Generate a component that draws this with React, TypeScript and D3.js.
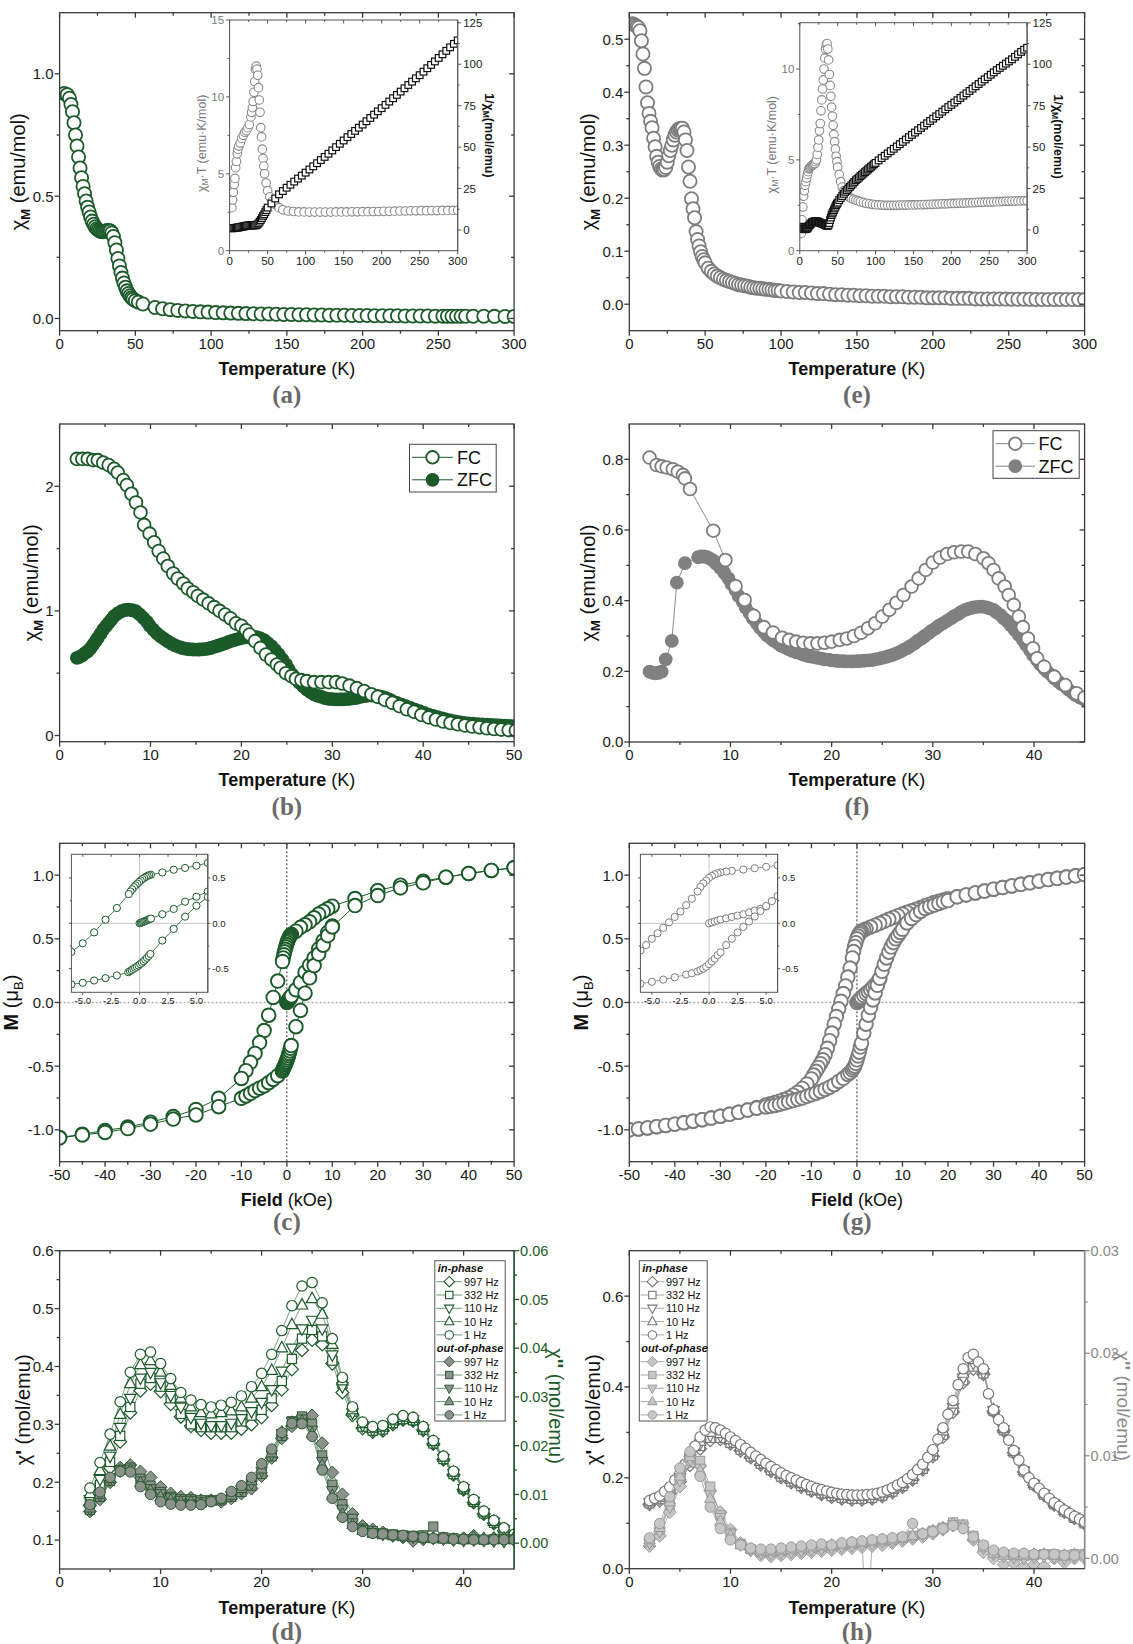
import React from 'react';
import * as d3 from 'd3';

type P = [number, number];
const FONT = "'Liberation Sans', Arial, Helvetica, sans-serif";
const SERIF = "'Liberation Serif', 'Times New Roman', serif";
const GREEN = '#1c5a2a';
const GRAYM = '#7d7d7d';
const FR = '#3a3a3a';

// ---------------- (a) ----------------
const A_MAIN: P[] = [[3,0.92],[5,0.915],[6.5,0.9],[7.5,0.875],[8.5,0.845],[9.5,0.80],[10.5,0.75],[11.5,0.705],[12.5,0.66],[13.5,0.615],[14.5,0.575],[15.5,0.54],[16.5,0.51],[17.5,0.48],[18.5,0.455],[19.5,0.435],[20.5,0.415],[21.5,0.398],[22.5,0.385],[23.5,0.375],[24.5,0.367],[25.5,0.362],[26.5,0.358],[27.5,0.356],[28.5,0.355],[29.5,0.356],[30.5,0.358],[31.5,0.36],[32.5,0.36],[33.5,0.358],[34.5,0.35],[35.5,0.335],[36.5,0.31],[37.5,0.28],[38.5,0.245],[39.5,0.215],[40.5,0.188],[41.5,0.165],[42.5,0.145],[43.5,0.128],[44.5,0.113],[45.5,0.102],[46.5,0.093],[47.5,0.085],[48.5,0.079],[50,0.073],[52,0.067],[55,0.059],[63,0.045],[68,0.04],[73,0.036],[78,0.033],[83,0.031],[88,0.029],[93,0.027],[98,0.026],[103,0.024],[108,0.023],[113,0.022],[118,0.021],[123,0.02],[128,0.019],[133,0.018],[138,0.018],[143,0.017],[148,0.016],[153,0.016],[158,0.015],[163,0.015],[168,0.014],[173,0.014],[178,0.013],[183,0.013],[188,0.013],[193,0.012],[198,0.012],[203,0.012],[208,0.011],[213,0.011],[218,0.011],[223,0.011],[228,0.010],[233,0.010],[238,0.010],[243,0.010],[248,0.0095],[253,0.0095],[256,0.0095],[259,0.009],[262,0.009],[265,0.009],[268,0.009],[273,0.009],[280,0.0088],[287,0.0086],[294,0.0085],[300,0.0084]];
const A_XT: P[] = [[3,2.8],[4,3.3],[5,3.8],[6,4.3],[7,4.7],[8,5.4],[9,5.8],[10,6.3],[11,6.6],[12,6.8],[14,7.0],[16,7.3],[18,7.5],[20,7.7],[22,7.8],[24,8.0],[26,8.2],[28,8.7],[29,9.0],[30,9.3],[31,9.7],[32,10.3],[33,11.0],[34,11.8],[35,12.0],[36,11.8],[37,11.4],[38,10.6],[39,9.8],[40,9.0],[41,8.0],[42,7.4],[43,6.6],[44,6.0],[45,5.5],[46,5.0],[48,4.4],[50,3.9],[53,3.5],[56,3.2],[60,3.0],[65,2.8],[70,2.66],[77,2.58],[84,2.55],[91,2.52],[98,2.52],[105,2.51],[112,2.51],[119,2.51],[126,2.51],[133,2.51],[140,2.52],[147,2.52],[154,2.52],[161,2.53],[168,2.53],[175,2.54],[182,2.54],[189,2.55],[196,2.55],[203,2.56],[210,2.56],[217,2.57],[224,2.58],[231,2.58],[238,2.59],[245,2.59],[252,2.6],[259,2.6],[266,2.61],[273,2.61],[280,2.62],[287,2.62],[294,2.62],[300,2.63]];
const A_INV: P[] = [[2,1.0],[3.5,1.1],[5,1.1],[6.5,1.2],[8,1.3],[9.5,1.4],[11,1.5],[12.5,1.6],[14,1.8],[15.5,1.9],[17,2.0],[18.5,2.2],[20,2.3],[21.5,2.5],[23,2.6],[24.5,2.7],[26,2.8],[27.5,2.8],[29,2.8],[30.5,2.8],[32,2.8],[33.5,2.8],[35,2.9],[36.5,3.3],[38,4.0],[39.5,5.0],[41,6.0],[42.5,7.2],[44,8.5],[45.5,9.5],[47,10.8],[48.5,12.0],[50,13.5],[55,16],[60,19],[65,21.5],[70,23.5],[75,25.5],[80,27.3],[85,29.2],[90,31],[95,32.8],[100,34.6],[105,36.5],[110,38.4],[115,40.3],[120,42.2],[125,44.1],[130,46],[135,48],[140,50],[145,52],[150,54],[155,56],[160,57.9],[165,59.8],[170,61.7],[175,63.6],[180,65.6],[185,67.6],[190,69.6],[195,71.6],[200,73.5],[205,75.5],[210,77.5],[215,79.5],[220,81.5],[225,83.5],[230,85.5],[235,87.5],[240,89.5],[245,91.5],[250,93.4],[255,95.5],[260,97.6],[265,99.6],[270,101.7],[275,103.8],[280,106],[285,108.1],[290,110.2],[295,112.3],[300,114.4]];

// ---------------- (e) ----------------
const E_MAIN: P[] = [[2,0.529],[3,0.528],[4,0.526],[5,0.524],[6,0.522],[7,0.516],[8,0.497],[9,0.472],[10,0.445],[11,0.41],[12,0.38],[13,0.36],[14,0.345],[15,0.333],[16,0.313],[17,0.297],[18,0.279],[19,0.268],[20,0.26],[21,0.255],[22,0.253],[23,0.254],[24,0.258],[25,0.268],[26,0.28],[27,0.29],[28,0.3],[29,0.31],[30,0.319],[31,0.325],[32,0.329],[33,0.331],[34,0.332],[35,0.332],[36,0.325],[37,0.31],[38,0.29],[39,0.259],[40,0.232],[41,0.199],[42,0.18],[43,0.163],[44,0.137],[45,0.122],[46,0.11],[47,0.099],[48,0.09],[49,0.084],[50,0.078],[52,0.068],[54,0.062],[56,0.057],[58,0.053],[60,0.05],[62,0.047],[64,0.045],[66,0.043],[68,0.041],[70,0.039],[72,0.037],[74,0.036],[76,0.035],[78,0.034],[80,0.032],[82,0.031],[84,0.030],[86,0.030],[88,0.029],[90,0.028],[92,0.028],[94,0.027],[96,0.026],[98,0.026],[100,0.025],[104,0.024],[108,0.023],[112,0.022],[116,0.022],[120,0.021],[124,0.02],[128,0.02],[132,0.019],[136,0.018],[140,0.018],[144,0.017],[148,0.017],[152,0.016],[156,0.016],[160,0.015],[164,0.015],[168,0.015],[172,0.014],[176,0.014],[180,0.014],[184,0.013],[188,0.013],[192,0.013],[196,0.012],[200,0.012],[204,0.012],[208,0.012],[212,0.011],[216,0.011],[220,0.011],[224,0.011],[228,0.010],[232,0.010],[236,0.010],[240,0.010],[244,0.0098],[248,0.0096],[252,0.0095],[256,0.0094],[260,0.0093],[264,0.0092],[268,0.0091],[272,0.009],[276,0.009],[280,0.0089],[284,0.0089],[288,0.0088],[292,0.0088],[296,0.0087],[300,0.0087]];
const E_XT: P[] = [[2,0.95],[3,1.7],[4,2.4],[5,3.0],[6,3.3],[7,3.6],[8,3.8],[9,4.0],[10,4.2],[11,4.35],[12,4.5],[13,4.55],[14,4.6],[15,4.65],[16,4.7],[17,4.72],[18,4.75],[19,4.78],[20,4.8],[21,4.9],[22,5.0],[23,5.3],[24,5.7],[25,6.1],[26,6.6],[27,7.0],[28,7.7],[29,8.3],[30,8.9],[31,9.4],[32,10.0],[33,10.6],[34,11.1],[35,11.35],[36,11.4],[37,11.1],[38,10.5],[39,9.7],[40,9.1],[41,8.5],[42,7.9],[43,7.4],[44,6.9],[45,6.4],[46,6.0],[47,5.6],[48,5.2],[49,4.9],[50,4.6],[52,4.2],[54,3.8],[56,3.5],[58,3.3],[60,3.15],[62,3.05],[65,2.95],[68,2.88],[71,2.83],[74,2.78],[77,2.74],[80,2.7],[84,2.65],[88,2.61],[92,2.58],[96,2.55],[100,2.53],[104,2.52],[108,2.51],[112,2.5],[116,2.5],[120,2.5],[124,2.5],[128,2.5],[132,2.51],[136,2.51],[140,2.51],[144,2.52],[148,2.52],[152,2.52],[156,2.53],[160,2.53],[164,2.54],[168,2.54],[172,2.55],[176,2.55],[180,2.56],[184,2.57],[188,2.58],[192,2.58],[196,2.59],[200,2.6],[204,2.6],[208,2.61],[212,2.62],[216,2.62],[220,2.63],[224,2.64],[228,2.64],[232,2.65],[236,2.66],[240,2.66],[244,2.67],[248,2.68],[252,2.68],[256,2.69],[260,2.7],[264,2.7],[268,2.71],[272,2.72],[276,2.72],[280,2.73],[284,2.73],[288,2.74],[292,2.74],[296,2.75],[300,2.75]];
const E_INV: P[] = [[2,2.0],[3,1.5],[4,1.0],[5,0.6],[6,0.5],[7,0.5],[8,0.6],[9,0.8],[10,1.0],[11,1.6],[12,2.5],[13,3.0],[14,3.5],[15,4.0],[16,4.5],[17,4.8],[18,5.0],[19,5.1],[20,5.2],[21,5.2],[22,5.2],[23,5.1],[24,5.0],[25,4.8],[26,4.5],[27,4.3],[28,4.2],[29,4.0],[30,3.8],[31,3.6],[32,3.5],[33,3.2],[34,3.0],[35,2.7],[36,2.5],[37,2.6],[38,3.0],[39,4.2],[40,6.0],[41,7.5],[42,9],[43,10],[44,11],[45,12],[46,13],[47,14],[48,15],[49,15.8],[50,16.5],[52,18],[54,19.3],[56,20.5],[58,21.8],[60,23],[62,24],[64,25],[66,26],[68,27],[70,28],[72,29],[74,30],[76,30.8],[78,31.6],[80,32.5],[82,33.3],[84,34.1],[86,34.9],[88,35.7],[90,36.5],[92,37.3],[94,38.1],[96,38.9],[98,39.7],[100,40.5],[104,42],[108,43.4],[112,44.8],[116,46.2],[120,47.6],[124,49],[128,50.4],[132,51.8],[136,53.2],[140,54.6],[144,56],[148,57.4],[152,58.8],[156,60.2],[160,61.6],[164,63],[168,64.4],[172,65.8],[176,67.2],[180,68.6],[184,70],[188,71.4],[192,72.8],[196,74.2],[200,75.5],[204,76.9],[208,78.3],[212,79.7],[216,81.1],[220,82.5],[224,83.9],[228,85.3],[232,86.7],[236,88.1],[240,89.5],[244,90.9],[248,92.3],[252,93.7],[256,95.1],[260,96.5],[264,97.8],[268,99.1],[272,100.4],[276,101.7],[280,103],[284,104.5],[288,106],[292,107.5],[296,108.8],[300,110]];

// ---------------- (b) ----------------
const B_FC: P[] = [[1.9,2.22],[2.5,2.22],[3.1,2.22],[3.7,2.21],[4.2,2.21],[4.8,2.19],[5.4,2.17],[6,2.14],[6.4,2.11],[7,2.05],[7.4,2.01],[7.9,1.94],[8.4,1.87],[8.9,1.79],[9.3,1.69],[9.9,1.62],[10.4,1.55],[10.9,1.48],[11.4,1.42],[11.9,1.36],[12.5,1.30],[13,1.26],[13.6,1.22],[14.1,1.18],[14.7,1.15],[15.2,1.12],[15.8,1.09],[16.4,1.06],[17,1.03],[17.6,1.00],[18.2,0.97],[18.8,0.94],[19.4,0.90],[20,0.88],[20.5,0.845],[20.9,0.81],[21.5,0.757],[22.1,0.703],[22.7,0.65],[23.3,0.61],[23.9,0.57],[24.3,0.543],[24.9,0.50],[25.5,0.476],[26,0.455],[26.6,0.444],[27.2,0.436],[28,0.428],[28.8,0.428],[29.6,0.428],[30.4,0.428],[31.1,0.417],[31.9,0.40],[32.7,0.38],[33.5,0.356],[34.3,0.33],[35,0.31],[35.8,0.285],[36.6,0.262],[37.4,0.235],[38.2,0.21],[39,0.19],[39.8,0.165],[40.6,0.145],[41.4,0.128],[42.2,0.112],[43,0.1],[43.8,0.09],[44.6,0.08],[45.4,0.072],[46.2,0.065],[47,0.058],[47.8,0.052],[48.6,0.047],[49.4,0.043],[50.2,0.04]];
const B_ZFC: P[] = [[1.9,0.623],[2.2,0.63],[2.5,0.642],[2.8,0.66],[3.1,0.676],[3.4,0.70],[3.7,0.73],[4.0,0.76],[4.2,0.783],[4.5,0.815],[4.8,0.85],[5.1,0.878],[5.4,0.904],[5.7,0.93],[6,0.957],[6.4,0.98],[6.8,0.997],[7.2,1.007],[7.6,1.01],[8,1.005],[8.4,0.997],[8.8,0.972],[9.2,0.944],[9.6,0.913],[9.9,0.882],[10.3,0.85],[10.7,0.82],[11.1,0.796],[11.5,0.775],[11.9,0.755],[12.3,0.738],[12.7,0.723],[13.1,0.711],[13.5,0.702],[13.9,0.695],[14.3,0.692],[14.7,0.69],[15.1,0.689],[15.4,0.69],[15.8,0.692],[16.2,0.695],[16.6,0.702],[17,0.711],[17.4,0.72],[17.8,0.73],[18.2,0.74],[18.6,0.751],[19,0.761],[19.4,0.77],[19.8,0.777],[20.1,0.783],[20.5,0.788],[20.9,0.791],[21.3,0.791],[21.7,0.789],[22.1,0.78],[22.5,0.765],[22.9,0.742],[23.3,0.717],[23.7,0.685],[24.1,0.65],[24.5,0.61],[24.9,0.57],[25.2,0.53],[25.6,0.489],[26,0.455],[26.4,0.422],[26.8,0.394],[27.2,0.369],[27.6,0.347],[28,0.329],[28.4,0.318],[28.8,0.31],[29.2,0.3],[29.6,0.294],[30,0.291],[30.4,0.289],[30.8,0.289],[31.1,0.289],[31.5,0.291],[31.9,0.294],[32.3,0.298],[32.7,0.302],[33.1,0.309],[33.5,0.316],[33.9,0.319],[34.3,0.321],[34.7,0.32],[35.1,0.316],[35.5,0.309],[35.9,0.30],[36.3,0.288],[36.6,0.275],[37.1,0.262],[37.6,0.248],[38.1,0.235],[38.6,0.222],[39.1,0.208],[39.6,0.195],[40.1,0.181],[40.6,0.168],[41.1,0.158],[41.6,0.147],[42.1,0.137],[42.5,0.128],[43,0.12],[43.5,0.113],[44,0.106],[44.5,0.1],[45,0.097],[45.5,0.094],[46,0.091],[46.5,0.088],[47,0.086],[47.5,0.084],[48,0.082],[48.5,0.08],[49,0.078],[49.5,0.076],[50,0.075]];

// ---------------- (f) ----------------
const F_FC: P[] = [[2.0,0.805],[2.7,0.784],[3.2,0.78],[3.7,0.777],[4.3,0.772],[4.8,0.765],[5.3,0.756],[5.5,0.746],[6.0,0.716],[8.3,0.598],[9.5,0.515],[10.5,0.441],[11.4,0.402],[12.3,0.357],[13.3,0.325],[14.2,0.310],[15.1,0.295],[15.8,0.289],[16.5,0.284],[17.2,0.281],[17.9,0.279],[18.6,0.279],[19.3,0.281],[20,0.284],[20.8,0.289],[21.5,0.293],[22.2,0.30],[22.9,0.309],[23.6,0.322],[24.3,0.336],[25,0.355],[25.7,0.374],[26.4,0.394],[27.1,0.416],[27.9,0.44],[28.6,0.463],[29.3,0.487],[30,0.508],[30.7,0.522],[31.4,0.532],[32.1,0.537],[32.8,0.539],[33.5,0.539],[34.2,0.532],[35,0.52],[35.5,0.506],[36,0.487],[36.5,0.463],[37.1,0.44],[37.5,0.416],[38,0.388],[38.5,0.355],[38.9,0.325],[39.4,0.293],[39.9,0.265],[40.3,0.237],[41,0.213],[42,0.185],[43.1,0.161],[44.2,0.138],[45,0.126]];
const F_ZFC: P[] = [[2,0.199],[2.3,0.196],[2.6,0.194],[2.9,0.196],[3.2,0.199],[3.6,0.234],[4.2,0.286],[4.7,0.451],[5.5,0.506],[6.8,0.523],[7.1,0.525],[7.4,0.525],[7.7,0.523],[8.0,0.518],[8.3,0.513],[8.6,0.504],[9,0.492],[9.4,0.478],[9.8,0.463],[10.1,0.447],[10.5,0.430],[10.8,0.413],[11.2,0.397],[11.5,0.38],[11.9,0.364],[12.2,0.35],[12.6,0.336],[12.9,0.324],[13.3,0.312],[13.6,0.302],[14,0.293],[14.3,0.286],[14.7,0.279],[15,0.273],[15.4,0.268],[15.7,0.263],[16.1,0.258],[16.5,0.254],[16.9,0.251],[17.2,0.247],[17.6,0.244],[17.9,0.242],[18.3,0.240],[18.6,0.238],[19,0.236],[19.3,0.234],[19.7,0.233],[20,0.231],[20.4,0.230],[20.7,0.229],[21.1,0.229],[21.4,0.228],[21.8,0.228],[22.1,0.228],[22.5,0.229],[22.8,0.229],[23.2,0.230],[23.6,0.231],[24,0.232],[24.3,0.234],[24.7,0.236],[25,0.238],[25.4,0.241],[25.7,0.244],[26.1,0.247],[26.4,0.251],[26.8,0.256],[27.1,0.261],[27.5,0.266],[27.8,0.272],[28.2,0.279],[28.5,0.286],[28.9,0.293],[29.2,0.3],[29.6,0.308],[29.9,0.315],[30.3,0.322],[30.6,0.329],[31,0.336],[31.4,0.343],[31.8,0.35],[32.1,0.356],[32.5,0.362],[32.8,0.368],[33.2,0.374],[33.5,0.377],[33.9,0.38],[34.2,0.382],[34.6,0.383],[34.9,0.383],[35.3,0.381],[35.6,0.378],[36,0.374],[36.3,0.367],[36.7,0.359],[37,0.35],[37.4,0.341],[37.7,0.33],[38.1,0.317],[38.5,0.303],[38.9,0.289],[39.2,0.275],[39.6,0.26],[39.9,0.246],[40.3,0.232],[40.6,0.22],[41,0.208],[41.3,0.199],[41.7,0.19],[42,0.18],[42.4,0.171],[42.7,0.164],[43.1,0.157],[43.4,0.148],[43.8,0.14],[44.1,0.133],[44.5,0.126],[45,0.119]];

// ---------------- (c) ----------------
const C_DESC: P[] = [[50,1.058],[45,1.037],[40,1.013],[35,0.984],[30,0.953],[25,0.921],[20,0.879],[15,0.816],[10,0.756],[9,0.736],[8,0.715],[7,0.694],[6,0.665],[5,0.634],[4,0.61],[3,0.59],[2,0.56],[1,0.535],[0.85,0.53],[0.7,0.522],[0.55,0.512],[0.4,0.5],[0.25,0.487],[0.1,0.472],[-0.05,0.455],[-0.2,0.437],[-0.35,0.418],[-0.5,0.398],[-0.65,0.375],[-0.8,0.35],[-0.95,0.322],[-2,0.168],[-3,0.04],[-4,-0.1],[-5,-0.22],[-6,-0.315],[-7,-0.40],[-8,-0.47],[-9,-0.535],[-10,-0.596],[-15,-0.752],[-20,-0.84],[-25,-0.895],[-30,-0.94],[-35,-0.978],[-40,-1.005],[-45,-1.035],[-50,-1.06]];
const C_ASC: P[] = [[-50,-1.063],[-45,-1.04],[-40,-1.02],[-35,-0.99],[-30,-0.955],[-25,-0.915],[-20,-0.883],[-15,-0.818],[-10,-0.752],[-9,-0.734],[-8,-0.713],[-7,-0.692],[-6,-0.673],[-5,-0.655],[-4,-0.63],[-3,-0.604],[-2,-0.575],[-1,-0.538],[-0.85,-0.527],[-0.7,-0.515],[-0.55,-0.503],[-0.4,-0.49],[-0.25,-0.478],[-0.1,-0.465],[0.05,-0.45],[0.2,-0.435],[0.35,-0.418],[0.5,-0.4],[0.65,-0.38],[0.8,-0.36],[0.95,-0.338],[2,-0.19],[3,-0.062],[4,0.073],[5,0.194],[6,0.29],[7,0.38],[8,0.45],[9,0.525],[10,0.593],[15,0.761],[20,0.84],[25,0.90],[30,0.94],[35,0.984],[40,1.013],[45,1.037],[50,1.058]];
const C_VIR: P[] = [[0,0],[0.1,0.005],[0.2,0.01],[0.3,0.015],[0.4,0.02],[0.5,0.026],[0.6,0.031],[0.7,0.037],[0.8,0.042],[0.9,0.047],[1,0.052],[2,0.10],[3,0.158],[4,0.238],[5,0.293],[6,0.35],[7,0.42],[8,0.485],[9,0.55],[10,0.6]];

// ---------------- (g) ----------------
const G_DESC: P[] = [[50,1.005],[48,0.995],[46,0.985],[44,0.975],[42,0.965],[40,0.953],[38,0.94],[36,0.928],[34,0.915],[32,0.903],[30,0.89],[28,0.875],[26,0.86],[24,0.845],[22,0.83],[20,0.815],[19,0.805],[18,0.795],[17,0.785],[16,0.772],[15,0.76],[14,0.745],[13,0.732],[12,0.72],[11,0.708],[10,0.695],[9,0.682],[8,0.668],[7,0.653],[6,0.638],[5,0.622],[4,0.607],[3,0.592],[2,0.578],[1.5,0.57],[1,0.56],[0.75,0.552],[0.5,0.54],[0.25,0.522],[0,0.5],[-0.25,0.47],[-0.5,0.44],[-0.75,0.40],[-1,0.35],[-1.5,0.27],[-2,0.2],[-2.5,0.13],[-3,0.07],[-3.5,0.01],[-4,-0.05],[-4.5,-0.11],[-5,-0.17],[-5.5,-0.24],[-6,-0.3],[-6.5,-0.36],[-7,-0.41],[-7.5,-0.45],[-8,-0.48],[-8.5,-0.51],[-9,-0.54],[-9.5,-0.57],[-10,-0.6],[-11,-0.64],[-12,-0.675],[-13,-0.705],[-14,-0.728],[-15,-0.748],[-16,-0.762],[-17,-0.775],[-18,-0.786],[-19,-0.795],[-20,-0.805],[-22,-0.825],[-24,-0.845],[-26,-0.862],[-28,-0.878],[-30,-0.893],[-32,-0.907],[-34,-0.92],[-36,-0.932],[-38,-0.944],[-40,-0.955],[-42,-0.965],[-44,-0.975],[-46,-0.985],[-48,-0.993],[-50,-1.0]];
const G_ASC: P[] = [[-50,-1.0],[-48,-0.993],[-46,-0.985],[-44,-0.975],[-42,-0.965],[-40,-0.955],[-38,-0.944],[-36,-0.932],[-34,-0.92],[-32,-0.907],[-30,-0.893],[-28,-0.878],[-26,-0.862],[-24,-0.845],[-22,-0.83],[-20,-0.82],[-19,-0.815],[-18,-0.808],[-17,-0.8],[-16,-0.79],[-15,-0.78],[-14,-0.77],[-13,-0.76],[-12,-0.75],[-11,-0.737],[-10,-0.725],[-9,-0.712],[-8,-0.698],[-7,-0.683],[-6,-0.665],[-5,-0.645],[-4,-0.62],[-3,-0.595],[-2,-0.565],[-1.5,-0.55],[-1,-0.53],[-0.75,-0.515],[-0.5,-0.5],[-0.25,-0.478],[0,-0.45],[0.25,-0.42],[0.5,-0.39],[0.75,-0.35],[1,-0.32],[1.5,-0.24],[2,-0.17],[2.5,-0.1],[3,-0.04],[3.5,0.02],[4,0.075],[4.5,0.135],[5,0.19],[5.5,0.245],[6,0.3],[6.5,0.35],[7,0.395],[7.5,0.435],[8,0.47],[8.5,0.5],[9,0.525],[9.5,0.55],[10,0.575],[11,0.625],[12,0.66],[13,0.69],[14,0.715],[15,0.738],[16,0.752],[17,0.765],[18,0.778],[19,0.79],[20,0.8],[22,0.83],[24,0.845],[26,0.86],[28,0.875],[30,0.89],[32,0.903],[34,0.915],[36,0.928],[38,0.94],[40,0.953],[42,0.965],[44,0.975],[46,0.985],[48,0.995],[50,1.005]];
const G_VIR: P[] = [[0,0],[0.25,0.01],[0.5,0.02],[0.75,0.03],[1,0.04],[1.5,0.055],[2,0.07],[2.5,0.085],[3,0.1],[3.5,0.12],[4,0.14],[4.5,0.16],[5,0.185]];

// ---------------- (d) ----------------
const D_T = [3,4,5,6,7,8,9,10,11,12,13,14,15,16,17,18,19,20,21,22,23,24,25,26,27,28,29,30,31,32,33,34,35,36,37,38,39,40,41,42,43,44,45];
const D_IN_997 = [0.16,0.19,0.225,0.27,0.32,0.358,0.37,0.357,0.335,0.313,0.297,0.29,0.285,0.285,0.285,0.292,0.3,0.312,0.333,0.36,0.395,0.428,0.446,0.438,0.405,0.355,0.316,0.293,0.287,0.289,0.3,0.308,0.306,0.29,0.266,0.239,0.213,0.187,0.165,0.145,0.129,0.116,0.105];
const D_IN_332 = [0.165,0.195,0.235,0.28,0.33,0.37,0.38,0.365,0.345,0.318,0.3,0.295,0.295,0.295,0.295,0.305,0.315,0.325,0.345,0.375,0.413,0.448,0.463,0.452,0.41,0.37,0.322,0.296,0.289,0.291,0.302,0.309,0.307,0.291,0.267,0.24,0.214,0.188,0.166,0.146,0.13,0.117,0.106];
const D_IN_110 = [0.17,0.205,0.245,0.295,0.345,0.38,0.39,0.372,0.35,0.33,0.312,0.302,0.298,0.298,0.302,0.31,0.322,0.338,0.36,0.392,0.432,0.465,0.48,0.465,0.42,0.365,0.32,0.298,0.29,0.292,0.303,0.31,0.308,0.292,0.268,0.241,0.215,0.189,0.167,0.147,0.131,0.118,0.107];
const D_IN_10 = [0.18,0.22,0.262,0.317,0.37,0.403,0.41,0.39,0.367,0.345,0.33,0.32,0.318,0.32,0.323,0.33,0.345,0.365,0.393,0.432,0.472,0.506,0.517,0.49,0.438,0.375,0.325,0.301,0.293,0.295,0.306,0.312,0.31,0.294,0.27,0.243,0.217,0.19,0.168,0.148,0.132,0.119,0.108];
const D_IN_1 = [0.19,0.234,0.283,0.339,0.39,0.421,0.425,0.405,0.379,0.355,0.342,0.334,0.33,0.333,0.338,0.349,0.365,0.388,0.421,0.462,0.505,0.539,0.545,0.51,0.448,0.381,0.33,0.304,0.296,0.298,0.309,0.315,0.312,0.296,0.272,0.245,0.219,0.192,0.17,0.15,0.134,0.121,0.11];
const D_OUT_997 = [0.0065,0.009,0.0125,0.0155,0.016,0.0147,0.0135,0.0115,0.0102,0.0095,0.0093,0.0088,0.0088,0.0085,0.0092,0.0102,0.0112,0.0138,0.0175,0.0215,0.024,0.0255,0.0262,0.0205,0.0145,0.01,0.006,0.0035,0.0028,0.0022,0.0015,0.0012,0.0005,0.0008,0.001,0.001,0.0008,0.001,0.0015,0.0008,0.001,0.0008,0.001];
const D_OUT_332 = [0.0068,0.0095,0.0128,0.015,0.0155,0.0132,0.0118,0.0105,0.0095,0.009,0.009,0.0088,0.0088,0.0088,0.0095,0.0105,0.0118,0.0142,0.0178,0.022,0.025,0.026,0.0245,0.018,0.012,0.008,0.005,0.003,0.0025,0.002,0.0018,0.0016,0.0015,0.0016,0.0034,0.0012,0.001,0.0008,0.0008,0.0007,0.0008,0.0008,0.0008];
const D_OUT_110 = [0.007,0.0098,0.013,0.0148,0.0152,0.0128,0.0112,0.0102,0.0093,0.0088,0.0088,0.0085,0.0088,0.009,0.0098,0.011,0.0122,0.0148,0.0182,0.0225,0.025,0.0255,0.0232,0.0168,0.0108,0.007,0.0042,0.0028,0.0022,0.0018,0.0016,0.0014,0.0012,0.0011,0.001,0.0008,0.0006,0.0005,0.0006,0.0005,0.0004,0.0003,0.0005];
const D_OUT_10 = [0.0072,0.01,0.0132,0.015,0.015,0.0124,0.0108,0.0095,0.0088,0.0085,0.0085,0.0082,0.0086,0.009,0.0098,0.0112,0.0128,0.0152,0.0185,0.0228,0.0248,0.025,0.0225,0.016,0.0098,0.006,0.0038,0.0026,0.002,0.0017,0.0015,0.0013,0.0012,0.001,0.0009,0.0008,0.0008,0.0007,0.0012,0.001,0.001,0.0011,0.0012];
const D_OUT_1 = [0.0079,0.0105,0.0135,0.0147,0.0146,0.0116,0.010,0.0085,0.008,0.0078,0.0078,0.0079,0.0085,0.0092,0.0106,0.0118,0.0135,0.0163,0.0193,0.0227,0.0246,0.0245,0.0219,0.015,0.0092,0.0053,0.0034,0.0024,0.002,0.0019,0.0017,0.0016,0.0014,0.0012,0.001,0.001,0.0008,0.0008,0.0007,0.0007,0.0007,0.0007,0.0007];

// ---------------- (h) ----------------
const H_T = [2,3,4,5,6,7,8,9,10,11,12,13,14,15,16,17,18,19,20,21,22,23,24,25,26,27,28,29,30,31,32,33,34,35,36,37,38,39,40,41,42,43,44,45];
const H_T_HALF = [2,2.5,3,3.5,4,4.5,5,5.5,6,6.5,7,7.5,8,8.5,9,9.5,10,10.5,11,11.5,12,12.5,13,13.5,14,14.5,15,15.5,16,16.5,17,17.5,18,18.5,19,19.5,20,20.5,21,21.5,22,22.5,23,23.5,24,24.5,25,25.5,26,26.5,27,27.5,28,28.5,29,29.5,30,30.5,31,31.5,32,32.5,33,33.5,34,34.5,35,35.5,36,36.5,37,37.5,38,38.5,39,39.5,40,40.5,41,41.5,42,42.5,43,43.5,44,44.5,45];
const H_IN_1 = [0.15,0.155,0.16,0.17,0.18,0.195,0.21,0.23,0.25,0.27,0.29,0.305,0.312,0.31,0.305,0.298,0.29,0.282,0.273,0.265,0.256,0.248,0.24,0.232,0.225,0.218,0.211,0.205,0.2,0.195,0.19,0.185,0.181,0.177,0.174,0.171,0.168,0.166,0.164,0.163,0.162,0.162,0.162,0.163,0.164,0.166,0.169,0.173,0.178,0.184,0.19,0.198,0.207,0.218,0.23,0.245,0.262,0.285,0.31,0.34,0.37,0.405,0.44,0.465,0.472,0.455,0.44,0.385,0.35,0.328,0.31,0.283,0.26,0.239,0.217,0.2,0.188,0.177,0.166,0.155,0.145,0.137,0.129,0.122,0.115,0.109,0.103];
const H_IN_10 = [0.147,0.157,0.176,0.205,0.243,0.28,0.3,0.297,0.284,0.268,0.252,0.236,0.222,0.208,0.197,0.187,0.178,0.171,0.165,0.161,0.159,0.159,0.161,0.166,0.175,0.187,0.203,0.226,0.257,0.303,0.362,0.43,0.46,0.438,0.35,0.308,0.258,0.216,0.187,0.165,0.144,0.128,0.114,0.102];
const H_IN_110 = [0.145,0.155,0.173,0.2,0.238,0.275,0.293,0.292,0.28,0.265,0.249,0.233,0.219,0.205,0.194,0.184,0.175,0.168,0.162,0.158,0.156,0.156,0.158,0.163,0.172,0.184,0.2,0.222,0.252,0.298,0.355,0.42,0.452,0.432,0.348,0.306,0.257,0.215,0.186,0.164,0.143,0.127,0.113,0.101];
const H_IN_332 = [0.144,0.153,0.17,0.197,0.234,0.27,0.288,0.288,0.277,0.262,0.247,0.231,0.217,0.203,0.192,0.182,0.173,0.166,0.16,0.156,0.154,0.154,0.156,0.161,0.17,0.182,0.198,0.22,0.25,0.295,0.35,0.415,0.445,0.43,0.347,0.305,0.256,0.214,0.185,0.163,0.142,0.126,0.112,0.1];
const H_IN_997 = [0.142,0.15,0.166,0.192,0.228,0.264,0.283,0.285,0.275,0.26,0.245,0.229,0.215,0.201,0.19,0.18,0.171,0.164,0.158,0.154,0.152,0.152,0.154,0.159,0.168,0.18,0.196,0.218,0.247,0.29,0.345,0.41,0.44,0.428,0.346,0.304,0.255,0.213,0.184,0.162,0.141,0.125,0.111,0.099];
const H_OUT_997 = [0.0012,0.0022,0.0045,0.007,0.0095,0.009,0.0066,0.0045,0.0028,0.0015,0.0008,0.0003,0.0002,0.0003,0.0004,0.0005,0.0006,0.0007,0.0008,0.0009,0.001,0.0011,0.0012,0.0013,0.0015,0.0017,0.0019,0.0021,0.0024,0.0028,0.0032,0.003,0.0018,0.0006,0,-0.0006,-0.0005,-0.0008,-0.0006,-0.0008,0,-0.0004,0,0];
const H_OUT_332 = [0.0016,0.0028,0.0052,0.0078,0.0098,0.0095,0.007,0.0042,0.0025,0.0014,0.0009,0.0006,0.0006,0.0007,0.0008,0.0009,0.001,0.0011,0.0012,0.0013,0.0014,0.0015,0.0016,0.0017,0.0018,0.002,0.0022,0.0024,0.0027,0.003,0.0035,0.0033,0.0022,0.0012,0.0006,0.0004,0.0003,0.0002,0.0003,0.0004,0.0004,0.0003,0.0004,0.0004];
const H_OUT_110 = [0.0015,0.0026,0.005,0.0076,0.0096,0.0088,0.0062,0.004,0.0024,0.0013,0.0008,0.0005,0.0004,0.0005,0.0006,0.0007,0.0008,0.0009,0.001,0.0011,0.0012,0.0013,0.0014,0.0016,0.0017,0.0019,0.0021,0.0023,0.0026,0.0029,0.0033,0.0031,0.002,0.001,0.0004,0.0002,0.0001,0,0.0001,0.0002,0.0001,0,0.0001,0.0002];
const H_OUT_10 = [0.0018,0.003,0.0055,0.008,0.0099,0.0085,0.0058,0.0036,0.0022,0.0013,0.0009,0.0007,0.0007,0.0008,0.0009,0.001,0.0011,0.0012,0.0013,0.0014,0.0015,0.0016,0.0017,0.0018,0.0019,0.002,0.0022,0.0024,0.0027,0.003,0.0034,0.0032,0.0021,0.0011,0.0005,0.0003,0.0003,0.0003,0.0004,0.0004,0.0003,0.0003,0.0004,0.0004];
const H_OUT_10_SPIKE: P[] = [[23.3,-0.004],[23.7,-0.004]];
const H_OUT_1 = [0.002,0.0034,0.006,0.0088,0.0104,0.008,0.005,0.0029,0.0018,0.0013,0.001,0.0009,0.0009,0.001,0.0011,0.0012,0.0013,0.0014,0.0013,0.0015,0.0016,0.0017,0.0018,0.0019,0.002,0.0021,0.0034,0.0024,0.0026,0.0029,0.0032,0.0029,0.0021,0.0013,0.0008,0.0006,0.0005,0.0005,0.0004,0.0004,0.0004,0.0003,0.0003,0.0003];

const FREQS = ['997 Hz', '332 Hz', '110 Hz', '10 Hz', '1 Hz'];
const SHAPES = ['d', 's', 'v', 'u', 'c'];

// tick lists
const T300 = [0, 50, 100, 150, 200, 250, 300];
const T300m = [25, 75, 125, 175, 225, 275];
const T50 = [0, 10, 20, 30, 40, 50];
const T50m = [5, 15, 25, 35, 45];
const FIELD = [-50, -40, -30, -20, -10, 0, 10, 20, 30, 40, 50];
const FIELDm = [-45, -35, -25, -15, -5, 5, 15, 25, 35, 45];
const M_T = [-1, -0.5, 0, 0.5, 1];
const M_Tm = [-0.75, -0.25, 0.25, 0.75];

const zip = (t: number[], v: number[]): P[] => t.map((x, i) => [x, v[i]] as P).filter(p => p[1] !== undefined);

// layout
const BOX: any = {
  a: { L: 59.6, R: 514.1, T: 12.7, B: 330.7 },
  e: { L: 629.3, R: 1084.6, T: 12.7, B: 330.7 },
  b: { L: 59.6, R: 514.1, T: 424, B: 741.7 },
  f: { L: 629.3, R: 1084.6, T: 424, B: 742 },
  c: { L: 59.6, R: 514.1, T: 843.3, B: 1161.7 },
  g: { L: 629.3, R: 1084.6, T: 843.3, B: 1161.7 },
  d: { L: 59.6, R: 514.1, T: 1250.7, B: 1569 },
  h: { L: 629.3, R: 1084.6, T: 1250.7, B: 1568.7 },
};
const INS: any = {
  a: { L: 229.6, R: 457.7, T: 20, B: 250.7 },
  e: { L: 799.8, R: 1027.1, T: 22.7, B: 250.7 },
  c: { L: 71.4, R: 207.8, T: 854.3, B: 992.3 },
  g: { L: 640.4, R: 777.6, T: 854.3, B: 992.3 },
};

const f1 = (v: number) => v.toFixed(1);
const f0 = (v: number) => String(v);
const f2 = (v: number) => v.toFixed(2);

function mk(s: string, x: number, y: number, r: number, fill: string, stroke: string, sw: number, k: any) {
  if (s === 'c') return <circle key={k} cx={x} cy={y} r={r} fill={fill} stroke={stroke} strokeWidth={sw} />;
  if (s === 's') return <rect key={k} x={x - r * 0.88} y={y - r * 0.88} width={r * 1.76} height={r * 1.76} fill={fill} stroke={stroke} strokeWidth={sw} />;
  let d = '';
  if (s === 'd') { const q = r * 1.25; d = `M${x},${y - q}L${x + q},${y}L${x},${y + q}L${x - q},${y}Z`; }
  if (s === 'u') d = `M${x},${y - r * 1.25}L${x + r * 1.1},${y + r * 0.75}L${x - r * 1.1},${y + r * 0.75}Z`;
  if (s === 'v') d = `M${x},${y + r * 1.25}L${x + r * 1.1},${y - r * 0.75}L${x - r * 1.1},${y - r * 0.75}Z`;
  return <path key={k} d={d} fill={fill} stroke={stroke} strokeWidth={sw} />;
}

function Frame(o: any) {
  const { L, R, T, B, xs, ys, xt, xm, yt, ym, fx, fy, fs, maj, mnr, sw } = o;
  const color = o.color || FR;
  const lab = o.lab || '#1a1a1a';
  const gap = o.gap ?? 1;
  const els: any[] = [];
  const okX = (v: number) => { const X = xs(v); return X >= L - 0.5 && X <= R + 0.5; };
  const okY = (v: number) => { const Y = ys(v); return Y >= T - 0.5 && Y <= B + 0.5; };
  xt.filter(okX).forEach((v: number, i: number) => {
    const X = xs(v);
    els.push(<line key={'xb' + i} x1={X} x2={X} y1={B} y2={B + maj} stroke={color} strokeWidth={sw} />);
    els.push(<line key={'xtt' + i} x1={X} x2={X} y1={T} y2={T + maj} stroke={color} strokeWidth={sw} />);
    if (o.xLabels !== false) els.push(<text key={'xl' + i} x={X} y={B + maj + fs * 0.78 + 1.5} textAnchor="middle" fontSize={fs} fill={o.xLab || lab}>{fx(v)}</text>);
  });
  xm.filter(okX).forEach((v: number, i: number) => {
    const X = xs(v);
    els.push(<line key={'xm' + i} x1={X} x2={X} y1={B} y2={B + mnr} stroke={color} strokeWidth={sw} />);
    els.push(<line key={'xmt' + i} x1={X} x2={X} y1={T} y2={T + mnr} stroke={color} strokeWidth={sw} />);
  });
  yt.filter(okY).forEach((v: number, i: number) => {
    const Y = ys(v);
    els.push(<line key={'yl' + i} x1={L} x2={L - maj} y1={Y} y2={Y} stroke={color} strokeWidth={sw} />);
    if (!o.right) els.push(<line key={'yr' + i} x1={R} x2={R - maj} y1={Y} y2={Y} stroke={color} strokeWidth={sw} />);
    if (o.yLabels !== false) els.push(<text key={'ylb' + i} x={L - maj - gap} y={Y + fs * 0.36} textAnchor="end" fontSize={fs} fill={o.yLab || lab}>{fy(v)}</text>);
  });
  ym.filter(okY).forEach((v: number, i: number) => {
    const Y = ys(v);
    els.push(<line key={'ym' + i} x1={L} x2={L - mnr} y1={Y} y2={Y} stroke={color} strokeWidth={sw} />);
    if (!o.right) els.push(<line key={'ymr' + i} x1={R} x2={R - mnr} y1={Y} y2={Y} stroke={color} strokeWidth={sw} />);
  });
  els.push(<rect key="fr" x={L} y={T} width={R - L} height={B - T} fill="none" stroke={color} strokeWidth={sw} />);
  if (o.right) {
    const r = o.right;
    const okR = (v: number) => { const Y = r.s(v); return Y >= T - 0.5 && Y <= B + 0.5; };
    els.push(<line key="rax" x1={R} x2={R} y1={T} y2={B} stroke={r.color} strokeWidth={sw} />);
    r.t.filter(okR).forEach((v: number, i: number) => {
      const Y = r.s(v);
      els.push(<line key={'rt' + i} x1={R} x2={R + maj} y1={Y} y2={Y} stroke={r.color} strokeWidth={sw} />);
      els.push(<text key={'rl' + i} x={R + maj + gap} y={Y + (r.fs || fs) * 0.36} textAnchor="start" fontSize={r.fs || fs} fill={r.lab || r.color}>{r.f(v)}</text>);
    });
    r.m.filter(okR).forEach((v: number, i: number) => {
      const Y = r.s(v);
      els.push(<line key={'rm' + i} x1={R} x2={R + mnr} y1={Y} y2={Y} stroke={r.color} strokeWidth={sw} />);
    });
  }
  return <g>{els}</g>;
}

function clip(id: string, b: any) {
  return <clipPath id={id}><rect x={b.L} y={b.T} width={b.R - b.L} height={b.B - b.T} /></clipPath>;
}

const YFS = 20;
const YOFF = 5;
function tempTitle(cx: number, y: number) {
  return <text x={cx} y={y} textAnchor="middle" fontSize={18} fill="#111"><tspan fontWeight="bold">Temperature</tspan> (K)</text>;
}
function letter(cx: number, y: number, s: string) {
  return <text x={cx} y={y} textAnchor="middle" fontSize={25} fontFamily={SERIF} fontWeight="bold" fill="#6a6a6a">{s}</text>;
}
function chiLabel(x: number, cy: number) {
  return <text transform={`translate(${x + YOFF},${cy}) rotate(-90)`} textAnchor="middle" fontSize={YFS} fill="#111">χ<tspan fontSize={13} dy={5} fontWeight="bold">M</tspan><tspan dy={-5}> (emu/mol)</tspan></text>;
}
function mLabel(x: number, cy: number) {
  return <text transform={`translate(${x + YOFF},${cy}) rotate(-90)`} textAnchor="middle" fontSize={YFS} fill="#111"><tspan fontWeight="bold">M</tspan> (μ<tspan fontSize={13} dy={5}>B</tspan><tspan dy={-5}>)</tspan></text>;
}
function chi1Label(x: number, cy: number) {
  return <text transform={`translate(${x + YOFF},${cy}) rotate(-90)`} textAnchor="middle" fontSize={YFS} fill="#111">χ<tspan fontWeight="bold">'</tspan> (mol/emu)</text>;
}
function chi2Label(x: number, cy: number, fill: string, fs: number) {
  return <text transform={`translate(${x - fs * 0.25},${cy}) rotate(90)`} textAnchor="middle" fontSize={fs} fill={fill}>χ<tspan fontWeight="bold">''</tspan> (mol/emu)</text>;
}

// ---------- panels (a)/(e) ----------
function SusPanel(p: any) {
  const { id, b, ib, main, yDom, yt, ym, color, xtSeries, invSeries, lDom, lTicks, lMinor, rDom, letterS, ylx } = p;
  const xs = d3.scaleLinear().domain([0, 300]).range([b.L, b.R]);
  const ys = d3.scaleLinear().domain(yDom).range([b.B, b.T]);
  const ixs = d3.scaleLinear().domain([0, 300]).range([ib.L, ib.R]);
  const iyl = d3.scaleLinear().domain(lDom).range([ib.B, ib.T]);
  const iyr = d3.scaleLinear().domain(rDom).range([ib.B, ib.T]);
  const cx = (b.L + b.R) / 2;
  return (
    <g>
      <defs>{clip('c' + id, b)}{clip('ci' + id, ib)}</defs>
      <g clipPath={`url(#c${id})`}>
        {main.map((q: P, i: number) => mk('c', xs(q[0]), ys(q[1]), 6.6, '#fff', color, 1.8, i))}
      </g>
      <Frame L={b.L} R={b.R} T={b.T} B={b.B} xs={xs} ys={ys} xt={T300} xm={T300m} yt={yt} ym={ym} fx={f0} fy={f1} fs={15} maj={5} mnr={3} sw={1.3} />
      <rect x={ib.L} y={ib.T} width={ib.R - ib.L} height={ib.B - ib.T} fill="#fff" />
      <g clipPath={`url(#ci${id})`}>
        {xtSeries.map((q: P, i: number) => mk('c', ixs(q[0]), iyl(q[1]), 4.3, '#fff', '#8a8a8a', 1.1, 'x' + i))}
        {invSeries.map((q: P, i: number) => mk('s', ixs(q[0]), iyr(q[1]), 3.8, '#fff', '#111', 1.2, 'v' + i))}
      </g>
      <Frame L={ib.L} R={ib.R} T={ib.T} B={ib.B} xs={ixs} ys={iyl} xt={T300} xm={T300m} yt={lTicks} ym={lMinor} fx={f0} fy={f0} fs={11.5} maj={3.5} mnr={2} sw={1} color="#555" yLab="#7a7a7a" gap={2}
        right={{ s: iyr, t: [0, 25, 50, 75, 100, 125], m: [12.5, 37.5, 62.5, 87.5, 112.5], f: f0, color: '#555', lab: '#222', fs: 11.5 }} />
      <text transform={`translate(${ib.L - 24},${(ib.T + ib.B) / 2 + 8}) rotate(-90)`} textAnchor="middle" fontSize={12.5} fill="#7a7a7a">χ<tspan fontSize={8.5} dy={2}>M</tspan><tspan dy={-2}>·T (emu·K/mol)</tspan></text>
      <text transform={`translate(${ib.R + 27},${(ib.T + ib.B) / 2}) rotate(90)`} textAnchor="middle" fontSize={12.5} fontWeight="bold" fill="#111">1/χ<tspan fontSize={8.5} dy={2}>M</tspan><tspan dy={-2}>(mol/emu)</tspan></text>
      {chiLabel(ylx, (b.T + b.B) / 2)}
      {tempTitle(cx, 374.5)}
      {letter(cx, 403, letterS)}
    </g>
  );
}

// ---------- panels (b)/(f) ----------
function FcPanel(p: any) {
  const { id, b, xDom, yDom, xt, xm, yt, ym, fy, fc, zfc, stroke, fillZ, lineC, leg, letterS, ylx } = p;
  const xs = d3.scaleLinear().domain(xDom).range([b.L, b.R]);
  const ys = d3.scaleLinear().domain(yDom).range([b.B, b.T]);
  const line = d3.line<P>().x(q => xs(q[0])).y(q => ys(q[1]));
  const cx = (b.L + b.R) / 2;
  return (
    <g>
      <defs>{clip('c' + id, b)}</defs>
      <g clipPath={`url(#c${id})`}>
        <path d={line(zfc) || ''} fill="none" stroke={lineC} strokeWidth={0.9} />
        <path d={line(fc) || ''} fill="none" stroke={lineC} strokeWidth={0.9} />
        {zfc.map((q: P, i: number) => mk('c', xs(q[0]), ys(q[1]), 6.3, fillZ, fillZ, 1.2, 'z' + i))}
        {fc.map((q: P, i: number) => mk('c', xs(q[0]), ys(q[1]), 6.4, '#fff', stroke, 1.8, 'f' + i))}
      </g>
      <Frame L={b.L} R={b.R} T={b.T} B={b.B} xs={xs} ys={ys} xt={xt} xm={xm} yt={yt} ym={ym} fx={f0} fy={fy} fs={15} maj={5} mnr={3} sw={1.3} />
      <rect x={leg.x0} y={leg.y0} width={leg.x1 - leg.x0} height={leg.y1 - leg.y0} fill="#fff" stroke="#444" strokeWidth={1} />
      <line x1={leg.lx0} x2={leg.lx1} y1={leg.y0 + 13} y2={leg.y0 + 13} stroke={lineC} strokeWidth={1} />
      {mk('c', (leg.lx0 + leg.lx1) / 2, leg.y0 + 13, 6.3, '#fff', stroke, 1.8, 'lf')}
      <text x={leg.tx} y={leg.y0 + 19.5} fontSize={18} fill="#111">FC</text>
      <line x1={leg.lx0} x2={leg.lx1} y1={leg.y0 + 35.5} y2={leg.y0 + 35.5} stroke={lineC} strokeWidth={1} />
      {mk('c', (leg.lx0 + leg.lx1) / 2, leg.y0 + 35.5, 6.3, fillZ, fillZ, 1.2, 'lz')}
      <text x={leg.tx} y={leg.y0 + 42} fontSize={18} fill="#111">ZFC</text>
      {chiLabel(ylx, (b.T + b.B) / 2)}
      {tempTitle(cx, 785.5)}
      {letter(cx, 815, letterS)}
    </g>
  );
}

// ---------- panels (c)/(g) ----------
function HysPanel(p: any) {
  const { id, b, ib, desc, asc, vir, stroke, lineC, letterS, ylx, r } = p;
  const xs = d3.scaleLinear().domain([-50, 50]).range([b.L, b.R]);
  const ys = d3.scaleLinear().domain([-1.25, 1.25]).range([b.B, b.T]);
  const ixs = d3.scaleLinear().domain([-6, 6]).range([ib.L, ib.R]);
  const iys = d3.scaleLinear().domain([-0.76, 0.76]).range([ib.B, ib.T]);
  const line = d3.line<P>().x(q => xs(q[0])).y(q => ys(q[1]));
  const iline = d3.line<P>().x(q => ixs(q[0])).y(q => iys(q[1]));
  const cx = (b.L + b.R) / 2;
  const series = [vir, desc, asc];
  return (
    <g>
      <defs>{clip('c' + id, b)}{clip('ci' + id, ib)}</defs>
      <line x1={b.L} x2={b.R} y1={ys(0)} y2={ys(0)} stroke="#aaa" strokeWidth={1.5} strokeDasharray="2,2" />
      <line x1={xs(0)} x2={xs(0)} y1={b.T} y2={b.B} stroke="#333" strokeWidth={1} strokeDasharray="2,2" />
      <g clipPath={`url(#c${id})`}>
        {series.map((s: P[], k: number) => <path key={'l' + k} d={line(s) || ''} fill="none" stroke={lineC} strokeWidth={1} />)}
        {series.map((s: P[], k: number) => s.map((q: P, i: number) => mk('c', xs(q[0]), ys(q[1]), r, '#fff', stroke, 1.9, k + '-' + i)))}
      </g>
      <Frame L={b.L} R={b.R} T={b.T} B={b.B} xs={xs} ys={ys} xt={FIELD} xm={FIELDm} yt={M_T} ym={M_Tm} fx={f0} fy={f1} fs={15} maj={5} mnr={3} sw={1.3} />
      <rect x={ib.L} y={ib.T} width={ib.R - ib.L} height={ib.B - ib.T} fill="#fff" />
      <line x1={ib.L} x2={ib.R} y1={iys(0)} y2={iys(0)} stroke="#c8c8c8" strokeWidth={1} />
      <line x1={ixs(0)} x2={ixs(0)} y1={ib.T} y2={ib.B} stroke="#c8c8c8" strokeWidth={1} />
      <g clipPath={`url(#ci${id})`}>
        {series.map((s: P[], k: number) => <path key={'il' + k} d={iline(s) || ''} fill="none" stroke={lineC} strokeWidth={0.8} />)}
        {series.map((s: P[], k: number) => s.map((q: P, i: number) => mk('c', ixs(q[0]), iys(q[1]), 3.6, '#fff', stroke, 1, 'i' + k + '-' + i)))}
      </g>
      <Frame L={ib.L} R={ib.R} T={ib.T} B={ib.B} xs={ixs} ys={iys} xt={[-5, -2.5, 0, 2.5, 5]} xm={[]} yt={[-0.5, 0, 0.5]} ym={[-0.25, 0.25]} fx={f1} fy={f1} fs={9.5} maj={2.5} mnr={1.5} sw={1} color="#555" yLabels={false} gap={2}
        right={{ s: iys, t: [-0.5, 0, 0.5], m: [-0.25, 0.25], f: f1, color: '#555', lab: '#222', fs: 9.5 }} />
      {mLabel(ylx, (b.T + b.B) / 2)}
      <text x={cx} y={1206} textAnchor="middle" fontSize={18} fill="#111"><tspan fontWeight="bold">Field</tspan> (kOe)</text>
      {letter(cx, 1230, letterS)}
    </g>
  );
}

// ---------- panels (d)/(h) ----------
function AcPanel(p: any) {
  const { id, b, yDom, yt, ym, rDom, rt, rm, inS, outS, inC, outFill, outStroke, lineC, axisC, leg, letterS, ylx, r2x, r2fs, r } = p;
  const xs = d3.scaleLinear().domain([0, 45]).range([b.L, b.R]);
  const ys = d3.scaleLinear().domain(yDom).range([b.B, b.T]);
  const yr = d3.scaleLinear().domain(rDom).range([b.B, b.T]);
  const line = d3.line<P>().x(q => xs(q[0])).y(q => ys(q[1]));
  const rline = d3.line<P>().x(q => xs(q[0])).y(q => yr(q[1]));
  const cx = (b.L + b.R) / 2;
  const ly = [0, 1, 2, 3, 4];
  return (
    <g>
      <defs>{clip('c' + id, b)}</defs>
      <g clipPath={`url(#c${id})`}>
        {inS.map((s: P[], k: number) => <path key={'li' + k} d={line(s) || ''} fill="none" stroke={lineC} strokeWidth={0.8} />)}
        {inS.map((s: P[], k: number) => s.map((q: P, i: number) => mk(SHAPES[k], xs(q[0]), ys(q[1]), r, '#fff', inC, 1.2, 'i' + k + '-' + i)))}
        {outS.map((s: P[], k: number) => <path key={'lo' + k} d={rline(s) || ''} fill="none" stroke={lineC} strokeWidth={0.8} />)}
        {outS.map((s: P[], k: number) => s.filter((q: P) => q[1] > rDom[0]).map((q: P, i: number) => mk(SHAPES[k], xs(q[0]), yr(q[1]), r, outFill, outStroke, 1, 'o' + k + '-' + i)))}
      </g>
      <Frame L={b.L} R={b.R} T={b.T} B={b.B} xs={xs} ys={ys} xt={[0, 10, 20, 30, 40]} xm={[5, 15, 25, 35]} yt={yt} ym={ym} fx={f0} fy={f1} fs={15} maj={5} mnr={3} sw={1.3}
        right={{ s: yr, t: rt, m: rm, f: f2, color: axisC, lab: axisC, fs: 14.5 }} />
      <rect x={leg.x0} y={leg.y0} width={leg.x1 - leg.x0} height={leg.y1 - leg.y0} fill="#fff" stroke="#555" strokeWidth={1} />
      <text x={leg.x0 + 3} y={leg.y0 + 11.5} fontSize={11} fontWeight="bold" fontStyle="italic" fill="#111">in-phase</text>
      {ly.map(i => {
        const y = leg.y0 + 21 + i * 13.3;
        return <g key={'lgi' + i}>
          <line x1={leg.lx0} x2={leg.lx1} y1={y} y2={y} stroke={lineC} strokeWidth={0.9} />
          {mk(SHAPES[i], (leg.lx0 + leg.lx1) / 2, y, 4.2, '#fff', inC, 1.1, 'm')}
          <text x={leg.lx1 + 2} y={y + 4} fontSize={11} fill="#111">{FREQS[i]}</text>
        </g>;
      })}
      <text x={leg.x0 + 2} y={leg.y0 + 91.5} fontSize={11} fontWeight="bold" fontStyle="italic" fill="#111">out-of-phase</text>
      {ly.map(i => {
        const y = leg.y0 + 101 + i * 13.3;
        return <g key={'lgo' + i}>
          <line x1={leg.lx0} x2={leg.lx1} y1={y} y2={y} stroke={lineC} strokeWidth={0.9} />
          {mk(SHAPES[i], (leg.lx0 + leg.lx1) / 2, y, 4.2, outFill, outStroke, 1, 'm')}
          <text x={leg.lx1 + 2} y={y + 4} fontSize={11} fill="#111">{FREQS[i]}</text>
        </g>;
      })}
      {chi1Label(ylx, (b.T + b.B) / 2)}
      {chi2Label(r2x, 1406, axisC, r2fs)}
      {tempTitle(cx, 1614)}
      {letter(cx, 1640, letterS)}
    </g>
  );
}

export default function App() {
  const dIn = [D_IN_997, D_IN_332, D_IN_110, D_IN_10, D_IN_1].map(v => zip(D_T, v));
  const dOut = [D_OUT_997, D_OUT_332, D_OUT_110, D_OUT_10, D_OUT_1].map(v => zip(D_T, v));
  const hIn = [zip(H_T, H_IN_997), zip(H_T, H_IN_332), zip(H_T, H_IN_110), zip(H_T, H_IN_10), zip(H_T_HALF, H_IN_1)];
  const h10 = zip(H_T, H_OUT_10).concat(H_OUT_10_SPIKE).sort((a, b) => a[0] - b[0]);
  const hOut = [zip(H_T, H_OUT_997), zip(H_T, H_OUT_332), zip(H_T, H_OUT_110), h10, zip(H_T, H_OUT_1)];
  return (
    <svg width={1133} height={1644} viewBox="0 0 1133 1644" style={{ position: 'absolute', left: 0, top: 0, background: '#fff' }} fontFamily={FONT}>
      <rect width={1133} height={1644} fill="#fff" />
      <SusPanel id="a" b={BOX.a} ib={INS.a} main={A_MAIN} yDom={[-0.05, 1.25]} yt={[0, 0.5, 1]} ym={[0.25, 0.75]} color={GREEN}
        xtSeries={A_XT} invSeries={A_INV} lDom={[0, 15]} lTicks={[0, 5, 10, 15]} lMinor={[2.5, 7.5, 12.5]} rDom={[-12.5, 126.7]} letterS="(a)" ylx={19.5} />
      <SusPanel id="e" b={BOX.e} ib={INS.e} main={E_MAIN} yDom={[-0.05, 0.55]} yt={[0, 0.1, 0.2, 0.3, 0.4, 0.5]} ym={[0.05, 0.15, 0.25, 0.35, 0.45]} color={GRAYM}
        xtSeries={E_XT} invSeries={E_INV} lDom={[0, 12.55]} lTicks={[0, 5, 10]} lMinor={[2.5, 7.5, 12.5]} rDom={[-12.5, 125.1]} letterS="(e)" ylx={590} />
      <FcPanel id="b" b={BOX.b} xDom={[0, 50]} yDom={[-0.05, 2.5]} xt={T50} xm={T50m} yt={[0, 1, 2]} ym={[0.5, 1.5]} fy={f0} fc={B_FC} zfc={B_ZFC}
        stroke={GREEN} fillZ={GREEN} lineC={GREEN} letterS="(b)" ylx={32.5}
        leg={{ x0: 409.5, x1: 496.2, y0: 444.3, y1: 492, lx0: 412, lx1: 453, tx: 457 }} />
      <FcPanel id="f" b={BOX.f} xDom={[0, 45]} yDom={[0, 0.9]} xt={[0, 10, 20, 30, 40]} xm={[5, 15, 25, 35]} yt={[0, 0.2, 0.4, 0.6, 0.8]} ym={[0.1, 0.3, 0.5, 0.7]} fy={f1} fc={F_FC} zfc={F_ZFC}
        stroke={GRAYM} fillZ="#808080" lineC="#808080" letterS="(f)" ylx={590}
        leg={{ x0: 993, x1: 1079.2, y0: 430.7, y1: 478.3, lx0: 995.5, lx1: 1035, tx: 1038.6 }} />
      <HysPanel id="c" b={BOX.c} ib={INS.c} desc={C_DESC} asc={C_ASC} vir={C_VIR} stroke={GREEN} lineC={GREEN} letterS="(c)" ylx={13} r={6.8} />
      <HysPanel id="g" b={BOX.g} ib={INS.g} desc={G_DESC} asc={G_ASC} vir={G_VIR} stroke={GRAYM} lineC="#808080" letterS="(g)" ylx={583} r={6.8} />
      <AcPanel id="d" b={BOX.d} yDom={[0.05, 0.6]} yt={[0.1, 0.2, 0.3, 0.4, 0.5, 0.6]} ym={[0.15, 0.25, 0.35, 0.45, 0.55]}
        rDom={[-0.0053, 0.06]} rt={[0, 0.01, 0.02, 0.03, 0.04, 0.05, 0.06]} rm={[0.005, 0.015, 0.025, 0.035, 0.045, 0.055]}
        inS={dIn} outS={dOut} inC={GREEN} outFill="#8c918c" outStroke="#2c5a33" lineC="#5f8a66" axisC={GREEN}
        leg={{ x0: 434.8, x1: 505.2, y0: 1260.7, y1: 1421, lx0: 436.5, lx1: 462 }} letterS="(d)" ylx={24.5} r2x={554} r2fs={20} r={5.2} />
      <AcPanel id="h" b={BOX.h} yDom={[0, 0.7]} yt={[0, 0.2, 0.4, 0.6]} ym={[0.1, 0.3, 0.5]}
        rDom={[-0.00101, 0.03]} rt={[0, 0.01, 0.02, 0.03]} rm={[0.005, 0.015, 0.025]}
        inS={hIn} outS={hOut} inC="#777" outFill="#c6c6c6" outStroke="#9a9a9a" lineC="#9a9a9a" axisC="#8a8a8a"
        leg={{ x0: 639.3, x1: 707.2, y0: 1260.7, y1: 1421, lx0: 640.7, lx1: 664 }} letterS="(h)" ylx={595} r2x={1122} r2fs={19} r={5.2} />
    </svg>
  );
}
